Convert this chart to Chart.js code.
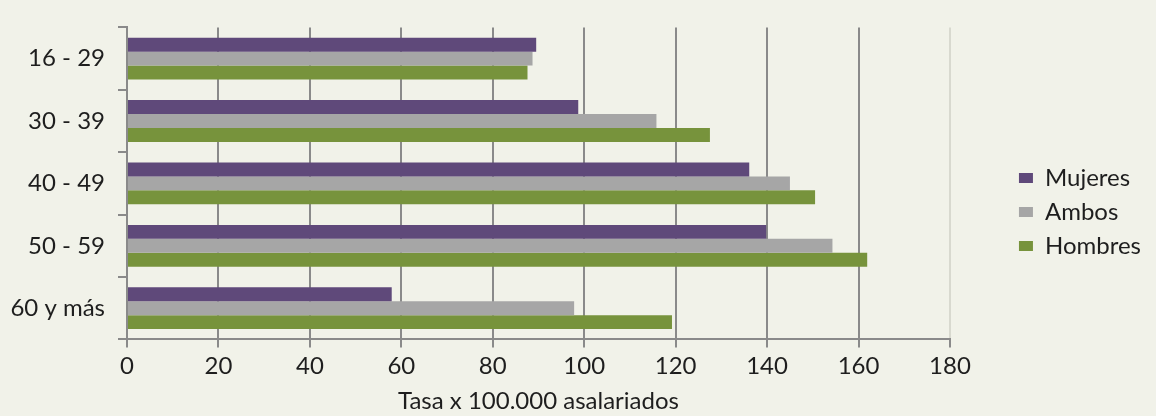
<!DOCTYPE html>
<html>
<head>
<meta charset="utf-8">
<script src="https://cdn.jsdelivr.net/npm/chart.js@4"></script>
<style>
  html, body { margin: 0; padding: 0; background: #F1F2E9; }
  #wrap { width: 1156px; height: 416px; }
</style>
</head>
<body>
<div id="wrap"><canvas id="chart"></canvas></div>
<script>
const categories = ['16 - 29', '30 - 39', '40 - 49', '50 - 59', '60 y más'];
const mujeres = [89.5, 98.7, 136.1, 139.8, 57.9];
const ambos = [88.7, 115.8, 145.0, 154.3, 97.8];
const hombres = [87.6, 127.5, 150.5, 161.9, 119.2];
const xTicks = [0, 20, 40, 60, 80, 100, 120, 140, 160, 180];

const gridGray = '#8A8A8A';
const fontFamily = 'Lato, "Noto Sans", sans-serif';

const chart = new Chart(document.getElementById('chart'), {
  type: 'bar',
  data: {
    labels: categories,
    datasets: [
      { label: 'Mujeres', data: mujeres, backgroundColor: '#5F497A' },
      { label: 'Ambos', data: ambos, backgroundColor: '#A6A6A6' },
      { label: 'Hombres', data: hombres, backgroundColor: '#77933C' }
    ]
  },
  options: {
    indexAxis: 'y',
    responsive: true,
    maintainAspectRatio: false,
    animation: false,
    layout: { padding: { top: 8, right: 5, bottom: 0, left: 0 } },
    datasets: { bar: { categoryPercentage: 0.67, barPercentage: 1.0 } },
    plugins: {
      tooltip: { enabled: false },
      legend: {
        position: 'right',
        labels: {
          boxWidth: 14,
          boxHeight: 10,
          padding: 10,
          color: '#1e1e1e',
          font: { family: fontFamily, size: 24 }
        }
      }
    },
    scales: {
      x: {
        min: 0,
        max: 180,
        afterBuildTicks: (scale) => { scale.ticks = xTicks.map(v => ({ value: v })); },
        grid: {
          color: (c) => (c.tick && c.tick.value === 180) ? '#D8D9CF' : gridGray,
          tickColor: gridGray,
          lineWidth: 2,
          tickLength: 8
        },
        border: { display: true, color: gridGray, width: 2 },
        ticks: {
          padding: 4,
          color: '#1e1e1e',
          font: { family: fontFamily, size: 24 }
        },
        title: {
          display: true,
          text: 'Tasa x 100.000 asalariados',
          color: '#1e1e1e',
          font: { family: fontFamily, size: 24 },
          padding: { top: 3, bottom: 0 }
        }
      },
      y: {
        afterFit: (scale) => { scale.width = 127; },
        grid: {
          drawOnChartArea: false,
          color: gridGray,
          lineWidth: 2,
          tickLength: 9
        },
        border: { display: true, color: gridGray, width: 2 },
        ticks: {
          padding: 13,
          color: '#1e1e1e',
          font: { family: fontFamily, size: 24 }
        }
      },
      gapTop: {
        type: 'linear',
        position: 'top',
        display: true,
        grid: { display: false },
        border: { display: false },
        ticks: { display: false },
        afterFit: (scale) => { scale.height = 7; }
      },
      gapRight: {
        type: 'linear',
        position: 'right',
        display: true,
        grid: { display: false },
        border: { display: false },
        ticks: { display: false },
        afterFit: (scale) => { scale.width = 59; }
      }
    }
  }
});
</script>
</body>
</html>
